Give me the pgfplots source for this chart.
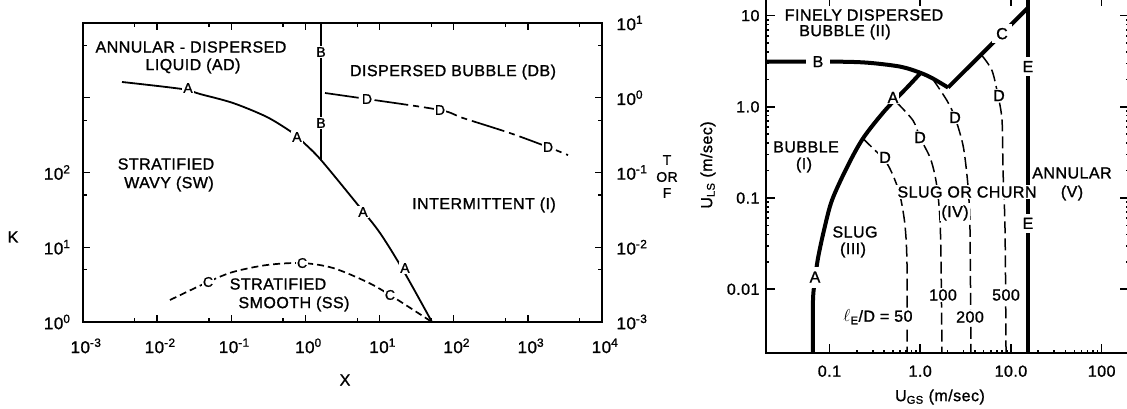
\documentclass[border=0pt]{standalone}
\usepackage{fontspec}
\setmainfont[LetterSpace=3, FakeBold=1.2]{Liberation Sans}
\usepackage{pgfplots}
\pgfplotsset{compat=1.18}
\newcommand\fs{\fontsize{16}{18}\selectfont}
\newcommand\ft{\fontsize{17}{18}\selectfont}
\newcommand\fl{\fontsize{14}{16}\selectfont}
\newcommand\tn[1]{10\textsuperscript{#1}}
\tikzset{lab/.style={fill=white, inner sep=1.2pt, font=\fl},
         txt/.style={inner sep=1pt, font=\fs},
         wtxt/.style={fill=white, inner sep=1pt, font=\fs}}
\begin{document}
\begin{tikzpicture}
\useasboundingbox (0pt,0pt) rectangle (1127pt,409pt);
% ---------------- Left panel: K axis ----------------
\begin{loglogaxis}[scale only axis, tick align=inside,
  every tick/.style={black, line width=1.3pt},
  axis line style={line width=1.6pt, black},
  tick label style={font=\ft},
  at={(83pt,87pt)}, anchor=south west, width=519pt, height=299pt,
  xmin=1e-3, xmax=1e4, ymin=1, ymax=1e4,
  xtick={1e-3,1e-2,1e-1,1,10,100,1000,10000},
  xticklabels={\tn{-3},\tn{-2},\tn{-1},\tn{0},\tn{1},\tn{2},\tn{3},\tn{4}},
  minor xtick={5e-3,5e-2,0.5,5,50,500,5000},
  ytick={1,10,100,1000,10000},
  yticklabels={\tn{0},\tn{1},\tn{2},{},{}},
  minor ytick={5,50,500,5000},
  xtick pos=both, ytick pos=left,
  major tick length=7pt, minor tick length=4pt,
  yticklabel style={xshift=-9pt},
  xticklabel style={yshift=-13pt, xshift=3pt},
]
% curve C (K vs X)
\addplot[black, line width=1.7pt, dash pattern=on 7pt off 4pt, smooth] coordinates {
 (0.01489,1.969) (0.04853,3.43) (0.1054,4.67) (0.3034,5.79) (0.900,6.15)
 (2.355,5.28) (6.77,3.43) (13.8,2.30) (50.9,1)};
\node[lab] at (axis cs:0.04853,3.43) {C};
\node[lab] at (axis cs:0.900,6.15) {C};
\node[lab] at (axis cs:13.8,2.30) {C};
\end{loglogaxis}
% ---------------- Left panel: T or F axis ----------------
\begin{loglogaxis}[scale only axis, tick align=inside,
  every tick/.style={black, line width=1.3pt},
  axis line style={line width=1.6pt, black},
  tick label style={font=\ft},
  at={(83pt,87pt)}, anchor=south west, width=519pt, height=299pt,
  xmin=1e-3, xmax=1e4, ymin=1e-3, ymax=10,
  xtick=\empty, xminorticks=false,
  ytick={1e-3,1e-2,1e-1,1,10},
  yticklabels={\tn{-3},\tn{-2},\tn{-1},\tn{0},\tn{1}},
  minor ytick={5e-3,5e-2,0.5,5},
  ytick pos=right, yticklabel pos=right,
  major tick length=7pt, minor tick length=4pt,
  yticklabel style={xshift=11pt},
]
% curve A (F vs X)
\addplot[black, line width=1.8pt, smooth] coordinates {
 (3.36e-3,1.625) (0.02163,1.309) (0.03784,1.122) (0.1054,0.851) (0.3034,0.552)
 (0.679,0.337) (0.927,0.256) (1.622,0.147) (5.12,0.0367) (10.14,0.0155)
 (20.7,0.00497) (50.9,0.001)};
% curve B
\addplot[black, line width=1.8pt] coordinates {(1.622,0.147) (1.622,10)};
% curve D (T vs X)
\addplot[black, line width=1.7pt, dash pattern=on 34pt off 5pt on 6pt off 5pt, smooth] coordinates {
 (1.837,1.158) (6.77,0.962) (65.3,0.686) (133,0.536) (574,0.337) (1871,0.219) (3483,0.171)};
\node[lab] at (axis cs:0.0261,1.349) {A};
\node[lab] at (axis cs:0.769,0.2985) {A};
\node[lab] at (axis cs:5.98,0.02963) {A};
\node[lab] at (axis cs:22.0,0.00528) {A};
\node[lab] at (axis cs:1.622,4.09) {B};
\node[lab] at (axis cs:1.622,0.459) {B};
\node[lab] at (axis cs:6.77,0.962) {D};
\node[lab] at (axis cs:65.3,0.686) {D};
\node[lab] at (axis cs:1871,0.219) {D};
\end{loglogaxis}
% ---------------- Right panel ----------------
\begin{loglogaxis}[scale only axis, tick align=inside,
  tick label style={font=\fs},
  at={(766pt,56pt)}, anchor=south west, width=363pt, height=356pt,
  xmin=0.02, xmax=200, ymin=0.002, ymax=16,
  xtick={0.1,1,10,100}, xticklabels={0.1,1.0,10.0,100},
  ytick={0.01,0.1,1,10}, yticklabels={0.01,0.1,1.0,10},
  minor xtick={}, minor ytick={},
  xtick pos=both, ytick pos=both, major tick length=9pt,
  axis line style={line width=2.2pt, black},
  every tick/.style={black, line width=1.6pt},
  xticklabel style={yshift=-9pt},
  yticklabel style={xshift=-3pt},
]
% B
\addplot[black, line width=4pt, smooth] coordinates {
 (0.02,3.13) (0.1094,3.13) (0.2596,3.05) (0.600,2.76) (0.995,2.37) (1.384,2.04) (2.03,1.626)};
% C
\addplot[black, line width=4pt] coordinates {(2.03,1.626) (15.4,12.2)};
% E
\addplot[black, line width=4pt] coordinates {(15.4,0.002) (15.4,16)};
% A
\addplot[black, line width=4pt, smooth] coordinates {
 (0.0659,0.002) (0.0659,0.0076) (0.0693,0.0126) (0.0748,0.0219) (0.0871,0.0444)
 (0.1066,0.0944) (0.156,0.217) (0.234,0.450) (0.409,0.912) (0.716,1.626) (0.995,2.31)};
% D curves
\addplot[black, line width=1.5pt, dash pattern=on 12pt off 5pt, smooth] coordinates {
 (0.234,0.450) (0.302,0.350) (0.4096,0.259) (0.502,0.177) (0.599,0.107) (0.680,0.0503) (0.716,0.0184) (0.716,0.002)};
\addplot[black, line width=1.5pt, dash pattern=on 12pt off 5pt, smooth] coordinates {
 (0.555,1.11) (0.834,0.708) (0.996,0.461) (1.282,0.279) (1.456,0.177) (1.572,0.107) (1.654,0.057) (1.696,0.0208) (1.738,0.002)};
\addplot[black, line width=1.5pt, dash pattern=on 12pt off 5pt, smooth] coordinates {
 (1.384,2.0) (1.974,1.17) (2.42,0.764) (2.966,0.378) (3.28,0.177) (3.45,0.0944) (3.54,0.0444) (3.63,0.002)};
\addplot[black, line width=1.5pt, dash pattern=on 12pt off 5pt, smooth] coordinates {
 (4.80,3.64) (6.18,2.50) (7.20,1.33) (7.98,0.708) (8.18,0.201) (8.61,0.0444) (8.83,0.002)};
\node[lab, font=\fs] at (axis cs:0.501,1.265) {A};
\node[lab, font=\fs, inner ysep=5pt] at (axis cs:0.0693,0.0136) {A};
\node[lab, font=\fs, inner xsep=7pt] at (axis cs:0.0748,3.13) {B};
\node[lab, font=\fs, inner sep=4pt] at (axis cs:7.97,6.34) {C};
\node[lab, font=\fs, inner ysep=4pt] at (axis cs:15.4,2.76) {E};
\node[lab, font=\fs, inner ysep=4pt] at (axis cs:15.4,0.0528) {E};
\node[lab, font=\fs] at (axis cs:0.41,0.279) {D};
\node[lab, font=\fs] at (axis cs:0.996,0.461) {D};
\node[lab, font=\fs] at (axis cs:2.42,0.764) {D};
\node[lab, font=\fs] at (axis cs:7.38,1.33) {D};
\end{loglogaxis}
% ---------------- Text (left) ----------------
\node[txt] at (191pt,362pt) {ANNULAR - DISPERSED};
\node[txt] at (193pt,343pt) {LIQUID (AD)};
\node[txt] at (453pt,337pt) {DISPERSED BUBBLE (DB)};
\node[txt] at (166pt,245pt) {STRATIFIED};
\node[txt] at (169pt,225pt) {WAVY (SW)};
\node[txt] at (484pt,204pt) {INTERMITTENT (I)};
\node[txt] at (278pt,125pt) {STRATIFIED};
\node[txt] at (294pt,105pt) {SMOOTH (SS)};
\node[txt] at (13pt,172pt) {K};
\node[txt] at (345pt,29pt) {X};
\node[inner sep=0pt, font=\fl] at (667pt,249pt) {T};
\node[inner sep=0pt, font=\fl] at (667pt,232pt) {OR};
\node[inner sep=0pt, font=\fl] at (667pt,216pt) {F};
% ---------------- Text (right) ----------------
\node[wtxt] at (864pt,394pt) {FINELY DISPERSED};
\node[wtxt] at (845pt,377pt) {BUBBLE (II)};
\node[wtxt] at (806pt,262pt) {BUBBLE};
\node[wtxt] at (804pt,244pt) {(I)};
\node[wtxt] at (967pt,217pt) {SLUG OR CHURN};
\node[wtxt] at (955pt,196pt) {(IV)};
\node[wtxt] at (1072pt,236pt) {ANNULAR};
\node[wtxt] at (1072pt,216pt) {(V)};
\node[wtxt] at (855pt,177pt) {SLUG};
\node[wtxt] at (853pt,159pt) {(III)};
\node[wtxt] at (943pt,114pt) {100};
\node[wtxt] at (1006pt,114pt) {500};
\node[wtxt] at (878pt,92pt) {$\ell_{\mathrm{E}}$/D = 50};
\node[wtxt] at (970pt,92pt) {200};
\node[txt, rotate=90] at (708pt,244pt) {U\textsubscript{LS} (m/sec)};
\node[txt] at (940pt,12pt) {U\textsubscript{GS} (m/sec)};
\end{tikzpicture}
\end{document}
